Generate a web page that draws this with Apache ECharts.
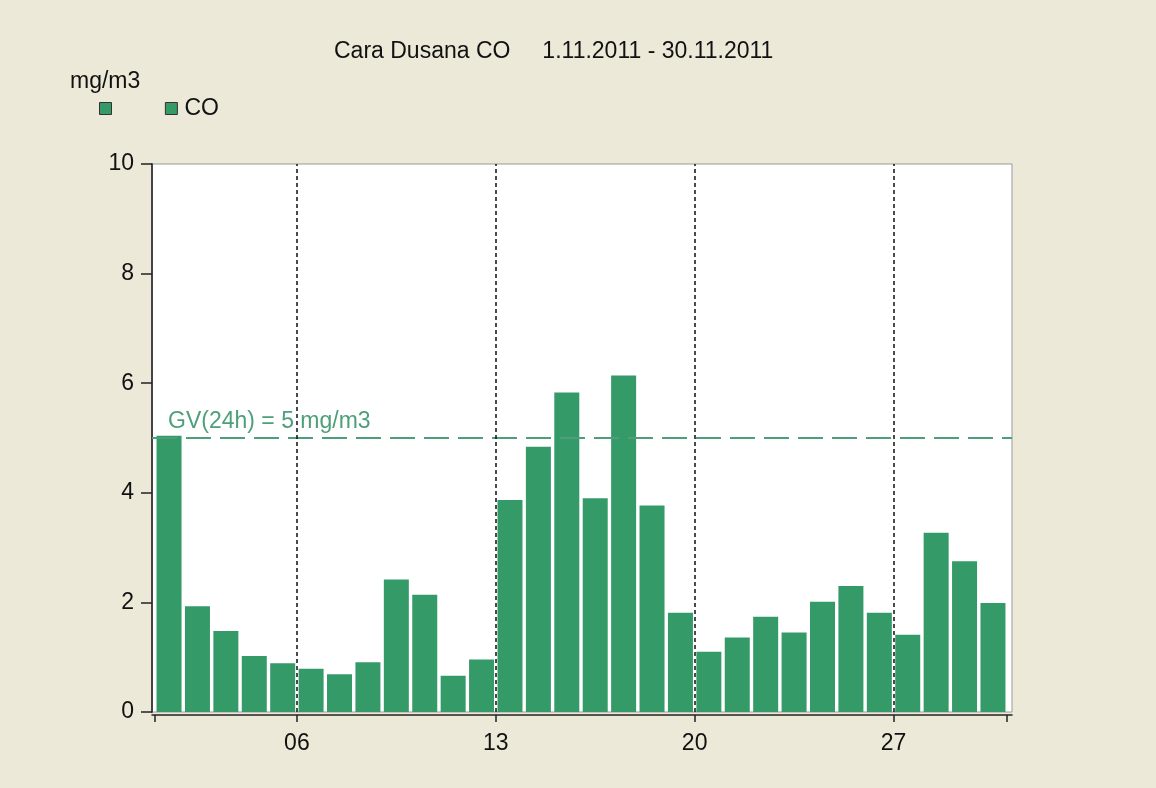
<!DOCTYPE html>
<html>
<head>
<meta charset="utf-8">
<title>Cara Dusana CO</title>
<script src="https://cdn.jsdelivr.net/npm/echarts@6/dist/echarts.min.js"></script>
<style>
  html, body { margin: 0; padding: 0; background: #ece9d8; }
  #chart { width: 1156px; height: 788px; }
</style>
</head>
<body>
<div id="chart"></div>
<script>
// daily CO means, November 2011
const days = [1, 2, 3, 4, 5, 6, 7, 8, 9, 10, 11, 12, 13, 14, 15, 16, 17, 18, 19, 20, 21, 22, 23, 24, 25, 26, 27, 28, 29, 30]
const coValues = [5.04, 1.93, 1.48, 1.02, 0.89, 0.79, 0.69, 0.91, 2.42, 2.14, 0.66, 0.96, 3.87, 4.84, 5.83, 3.90, 6.14, 3.77, 1.81, 1.10, 1.36, 1.74, 1.45, 2.01, 2.30, 1.81, 1.41, 3.27, 2.75, 1.99]
const gvLimit = 5
const gvLabel = 'GV(24h) = 5 mg/m3'
// x positions are "days since 1.11. 00:00"; week boundaries get labels
const xTickValues = [0, 5, 12, 19, 26, 30]
const xLabelValues = [5, 12, 19, 26]
const xLabelTexts = ['06', '13', '20', '27']
const yTicks = { min: 0, max: 10, interval: 2 }

const FONT = 'Arial, "Liberation Sans", sans-serif'
const FS = 23
const GREEN = '#349a68'
const GV_GREEN = '#4e9f79'

const chart = echarts.init(document.getElementById('chart'))

const barData = days.map((d, i) => [d - 0.5, coValues[i]])

chart.setOption({
  backgroundColor: '#ece9d8',
  animation: false,
  textStyle: { fontFamily: FONT },
  title: [
    {
      text: 'Cara Dusana CO     1.11.2011 - 30.11.2011',
      left: 334,
      top: 40,
      padding: 0,
      textStyle: { fontFamily: FONT, fontSize: FS, fontWeight: 'normal', color: '#111' },
    },
    {
      text: 'mg/m3',
      left: 70,
      top: 70,
      padding: 0,
      textStyle: { fontFamily: FONT, fontSize: FS, fontWeight: 'normal', color: '#111' },
    },
  ],
  legend: {
    left: 99,
    top: 97,
    padding: 0,
    itemWidth: 12,
    itemHeight: 12,
    itemGap: 40,
    icon: 'rect',
    data: [' ', 'CO'],
    itemStyle: { borderColor: '#333', borderWidth: 1 },
    textStyle: { fontFamily: FONT, fontSize: FS, color: '#111', padding: [0, 0, 0, 2] },
  },
  grid: {
    left: 152,
    right: 144,
    top: 164,
    bottom: 76,
    show: true,
    backgroundColor: '#ffffff',
    borderColor: '#9a9a9a',
    borderWidth: 1,
  },
  xAxis: {
    type: 'value',
    min: -0.1,
    max: 30.17,
    offset: 3,
    splitLine: { show: false },
    axisLine: { show: true, onZero: false, lineStyle: { color: '#222', width: 1.5 } },
    axisTick: {
      show: true,
      length: 7,
      customValues: xTickValues,
      lineStyle: { color: '#222', width: 1.5 },
    },
    axisLabel: {
      customValues: xLabelValues,
      formatter: v => xLabelTexts[xLabelValues.indexOf(v)] ?? '',
      margin: 17,
      fontFamily: FONT,
      fontSize: FS,
      color: '#111',
    },
  },
  yAxis: {
    type: 'value',
    min: yTicks.min,
    max: yTicks.max,
    interval: yTicks.interval,
    splitLine: { show: false },
    axisLine: { show: true, onZero: false, lineStyle: { color: '#444', width: 2 } },
    axisTick: { show: true, length: 11, lineStyle: { color: '#222', width: 1.5 } },
    axisLabel: { margin: 18, fontFamily: FONT, fontSize: FS, color: '#111' },
  },
  series: [
    {
      name: ' ',
      type: 'line',
      data: [],
      itemStyle: { color: GREEN },
      z: 1,
      markLine: {
        silent: true,
        symbol: 'none',
        data: [
          {
            yAxis: gvLimit,
            lineStyle: { color: GV_GREEN, type: [25, 9], width: 2 },
            label: {
              show: true,
              formatter: gvLabel,
              position: 'insideStartTop',
              distance: [16, 5],
              fontFamily: FONT,
              fontSize: FS,
              color: GV_GREEN,
            },
          },
          ...xLabelValues.map(v => ({
            xAxis: v,
            lineStyle: { color: '#111', type: [4, 3], width: 1.5 },
            label: { show: false },
          })),
        ],
      },
    },
    {
      name: 'CO',
      type: 'bar',
      barWidth: 25,
      z: 3,
      itemStyle: { color: GREEN },
      data: barData,
    },
  ],
})
</script>
</body>
</html>
